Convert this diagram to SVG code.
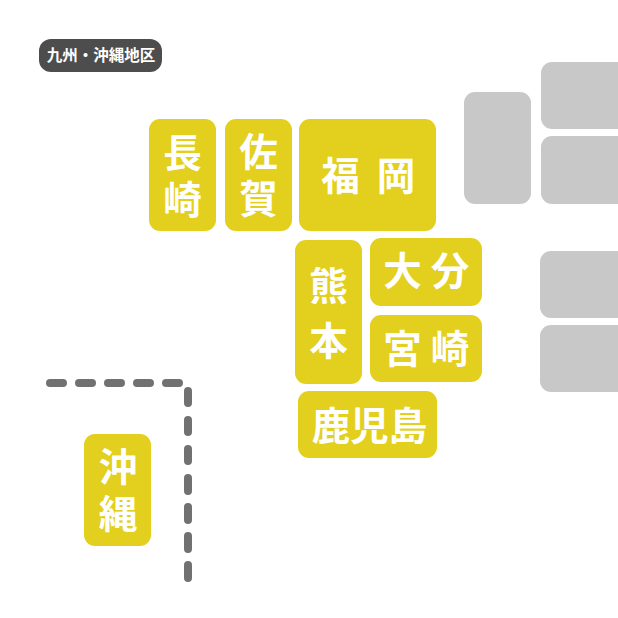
<svg xmlns="http://www.w3.org/2000/svg" width="618" height="618" viewBox="0 0 618 618">
<style>
.p{fill:#e3cf1d}
.g{fill:#c8c8c8}
.t{font-family:"Noto Sans CJK JP","Noto Sans",sans-serif;font-weight:700;font-size:38.500px;fill:#fff;text-anchor:middle}
.b{font-size:15.500px;font-weight:700}
.d{fill:none;stroke:#717171;stroke-width:8;stroke-linecap:round}
</style>
<rect width="618" height="618" fill="#fff"/>
<g id="title"><rect x="39" y="39" width="123" height="33" rx="12" fill="#4d4d4d"/><text class="t b" x="101" y="61">九州・沖縄地区</text></g>
<g id="other-regions">
<rect class="g" x="464" y="92" width="67" height="112" rx="11"/>
<rect class="g" x="541" y="62" width="100" height="67" rx="11"/>
<rect class="g" x="541" y="136" width="100" height="68" rx="11"/>
<rect class="g" x="540" y="251" width="100" height="67" rx="11"/>
<rect class="g" x="540" y="325" width="100" height="67" rx="11"/>
</g>
<g id="nagasaki"><rect class="p" x="149" y="119" width="67" height="112" rx="11"/><text class="t"><tspan x="182.500" y="167">長</tspan><tspan x="182.500" y="214">崎</tspan></text></g>
<g id="saga"><rect class="p" x="225" y="119" width="67" height="112" rx="11"/><text class="t"><tspan x="258.500" y="166">佐</tspan><tspan x="258.500" y="213">賀</tspan></text></g>
<g id="fukuoka"><rect class="p" x="299" y="119" width="137" height="112" rx="11"/><text class="t"><tspan x="340.500" y="190">福</tspan><tspan x="396" y="190">岡</tspan></text></g>
<g id="kumamoto"><rect class="p" x="295" y="240" width="67" height="144" rx="11"/><text class="t"><tspan x="328.500" y="300">熊</tspan><tspan x="328.500" y="355">本</tspan></text></g>
<g id="oita"><rect class="p" x="370" y="238" width="112" height="68" rx="11"/><text class="t"><tspan x="402.500" y="285">大</tspan><tspan x="450" y="285">分</tspan></text></g>
<g id="miyazaki"><rect class="p" x="370" y="315" width="112" height="67" rx="11"/><text class="t"><tspan x="402.500" y="363">宮</tspan><tspan x="450" y="363">崎</tspan></text></g>
<g id="kagoshima"><rect class="p" x="298" y="391" width="139" height="67" rx="11"/><text class="t" x="369.500" y="440">鹿児島</text></g>
<g id="okinawa"><rect class="p" x="84" y="434" width="67" height="112" rx="11"/><text class="t"><tspan x="118" y="481">沖</tspan><tspan x="118" y="528">縄</tspan></text></g>
<g id="connectors">
<path class="d" d="M50 383H63M79 383H92M108 383H121M137 383H150M166 383H179M188 391V403M188 420V432M188 449V461M188 478V491M188 507V520M188 536V549M188 565V578"/>
</g>
</svg>
